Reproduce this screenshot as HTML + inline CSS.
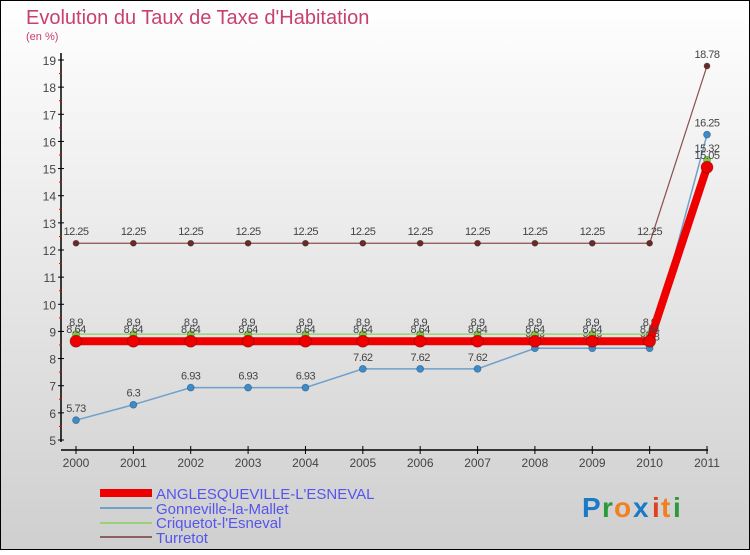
<!DOCTYPE html>
<html><head><meta charset="utf-8"><style>
body{margin:0;width:750px;height:550px;overflow:hidden}
svg text{font-family:"Liberation Sans",sans-serif}
</style></head><body>
<svg id="c" width="750" height="550" xmlns="http://www.w3.org/2000/svg">
<defs><linearGradient id="bg" x1="0" y1="0" x2="0" y2="1"><stop offset="0" stop-color="#ffffff"/><stop offset="1" stop-color="#cfcfcf"/></linearGradient></defs>
<rect x="0.5" y="0.5" width="749" height="549" fill="url(#bg)" stroke="#000"/>
<text x="26" y="24" font-size="20" fill="#c8406e">Evolution du Taux de Taxe d'Habitation</text>
<text x="26" y="40" font-size="11" fill="#c8406e">(en %)</text>
<g id="axes"></g><g id="series"></g>
<g>
<rect x="100" y="489" width="52" height="8" fill="#e00"/>
<text x="156" y="499" font-size="15" fill="#5555ee">ANGLESQUEVILLE-L'ESNEVAL</text>
<rect x="100" y="507" width="52" height="2" fill="#6fa0cc"/>
<text x="156" y="514" font-size="15" fill="#5555ee">Gonneville-la-Mallet</text>
<rect x="100" y="522" width="52" height="2" fill="#99d27a"/>
<text x="156" y="528" font-size="15" fill="#5555ee">Criquetot-l'Esneval</text>
<rect x="100" y="536" width="52" height="2" fill="#8a6060"/>
<text x="156" y="543" font-size="15" fill="#5555ee">Turretot</text>
</g>
<g font-size="28" font-weight="bold">
<text x="582" y="517" fill="#1a7ac8">P</text><text x="602" y="517" fill="#2a9a3a">r</text><text x="614" y="517" fill="#f08020">o</text><text x="633" y="517" fill="#1a7ac8">x</text><text x="652" y="517" fill="#e04020">i</text><text x="661" y="517" fill="#f08020">t</text><text x="673" y="517" fill="#2a9a3a">i</text>
</g>
</svg>
<script>
const years=["2000","2001","2002","2003","2004","2005","2006","2007","2008","2009","2010","2011"];
const yTicks=[5,6,7,8,9,10,11,12,13,14,15,16,17,18,19];
const anglesqueville=[8.64,8.64,8.64,8.64,8.64,8.64,8.64,8.64,8.64,8.64,8.64,15.05];
const gonneville=[5.73,6.3,6.93,6.93,6.93,7.62,7.62,7.62,8.38,8.38,8.38,16.25];
const criquetot=[8.9,8.9,8.9,8.9,8.9,8.9,8.9,8.9,8.9,8.9,8.9,15.32];
const turretot=[12.25,12.25,12.25,12.25,12.25,12.25,12.25,12.25,12.25,12.25,12.25,18.78];
const NS="http://www.w3.org/2000/svg";
const x=i=>76+i*(707-76)/(years.length-1);
const y=v=>440-(v-5)*(440-60)/14;
function mk(t,a,p){const e=document.createElementNS(NS,t);for(const k in a)e.setAttribute(k,a[k]);p.appendChild(e);return e;}
const ax=document.getElementById('axes');
const yl=mk('line',{x1:61,y1:53,x2:61,y2:442,stroke:'#000','stroke-width':1.5},ax);


const xl=mk('line',{x1:61,y1:450,x2:708,y2:450,stroke:'#000','stroke-width':1.5},ax);


yTicks.forEach(v=>{
 mk('line',{x1:58,y1:y(v),x2:64,y2:y(v),stroke:'#000'},ax);
 if(v<19)mk('line',{x1:59,y1:y(v+0.5),x2:62,y2:y(v+0.5),stroke:'#e00'},ax);
 const t=mk('text',{x:56,y:y(v)+5,'font-size':12,fill:'#444','text-anchor':'end'},ax);t.textContent=v;
 
 
});
years.forEach((yr,i)=>{
 mk('line',{x1:x(i),y1:446,x2:x(i),y2:454,stroke:'#000'},ax);
 const t=mk('text',{x:x(i),y:467,'font-size':12,fill:'#444','text-anchor':'middle'},ax);t.textContent=yr;
 
 
});
const sg=document.getElementById('series');
function series(vals,name,color,w,r,dot,labelDy){
 const g=mk('g',{},sg);
 
 
 const l=mk('polyline',{points:vals.map((v,i)=>x(i)+','+y(v)).join(' '),fill:'none',stroke:color,'stroke-width':w},g);
 
 
 vals.forEach((v,i)=>{
  const c=mk('circle',{cx:x(i),cy:y(v),r:r,fill:dot,stroke:'rgba(0,0,0,0.3)','stroke-width':0.8},g);
  
  
  const t=mk('text',{x:x(i),y:y(v)+labelDy,'font-size':11,fill:'#444','text-anchor':'middle','letter-spacing':'-0.5'},g);
  t.textContent=String(v);
  
  
 });
}
series(turretot,'turretot','#8a5050',1.2,3,'#6a2a2a',-8);
series(gonneville,'gonneville','#6fa0cc',1.5,3.5,'#3a8ccc',-8);
series(criquetot,'criquetot','#99d27a',1.5,3.5,'#7ad040',-8);
series(anglesqueville,'anglesqueville','#ee0000',8,6,'#ee0000',-8);
</script>
</body></html>
